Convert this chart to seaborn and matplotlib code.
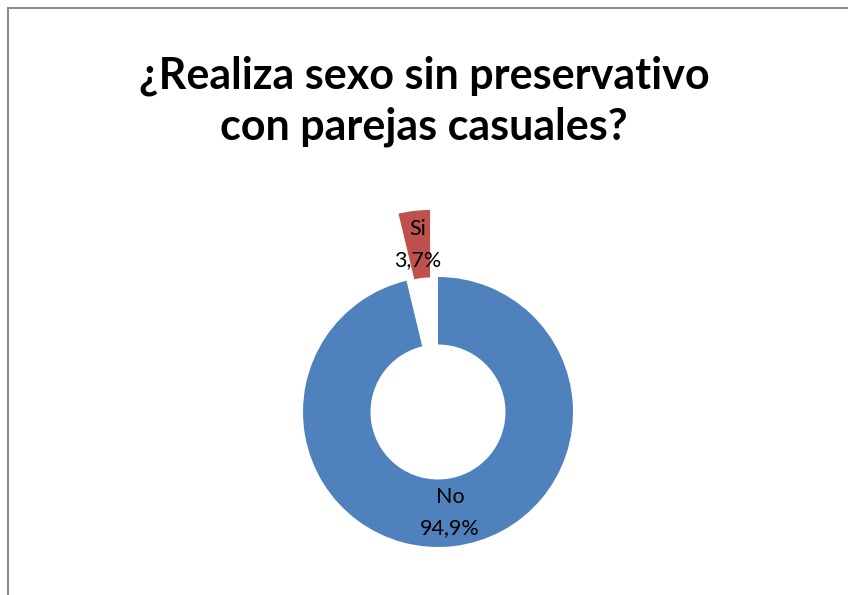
import matplotlib
matplotlib.use("Agg")
import matplotlib.pyplot as plt
import seaborn as sns
from matplotlib.lines import Line2D

categories = ["No", "Si"]
values = [94.9, 3.7]
colors = ["#4F81BD", "#C0504D"]
explode = [0.0, 0.5]
title = "¿Realiza sexo sin preservativo\ncon parejas casuales?"

sns.set_theme(style="white")
plt.rcParams["font.family"] = ["Lato", "DejaVu Sans"]

W, H = 848, 595
fig = plt.figure(figsize=(W / 100, H / 100), dpi=100)
fig.patch.set_facecolor("white")

R = 135.0
cx, cy = 438.0, 595 - 412.0
ax_l, ax_r, ax_b, ax_t = 238, 638, 20, 380
ax = fig.add_axes([ax_l / W, ax_b / H, (ax_r - ax_l) / W, (ax_t - ax_b) / H])

wedges, texts, autotexts = ax.pie(
    values, colors=colors, explode=explode, startangle=90, counterclock=False,
    radius=1.0, autopct="%1.1f%%", pctdistance=0.75,
    wedgeprops=dict(width=0.5, edgecolor="none", linewidth=0),
    textprops=dict(fontsize=15.5, color="black"),
)
for t, cat, val in zip(autotexts, categories, values):
    t.set_text(f"{cat}\n{val:.1f}%".replace(".", ","))
    t.set_linespacing(1.65)

ax.set_aspect("auto")
ax.set_xlim((ax_l - cx) / R, (ax_r - cx) / R)
ax.set_ylim((ax_b - cy) / R, (ax_t - cy) / R)
ax.axis("off")

fig.text(0.5, 1 - 101 / H, title, ha="center", va="center", fontsize=31,
         fontweight="bold", linespacing=1.32, color="black")

fig.add_artist(Line2D([8 / W, 1], [1 - 8 / H, 1 - 8 / H], color="#8c8c8c", lw=1.5,
                      transform=fig.transFigure))
fig.add_artist(Line2D([8 / W, 8 / W], [1 - 8 / H, 0], color="#8c8c8c", lw=1.5,
                      transform=fig.transFigure))

fig.savefig("out.png", dpi=100)
